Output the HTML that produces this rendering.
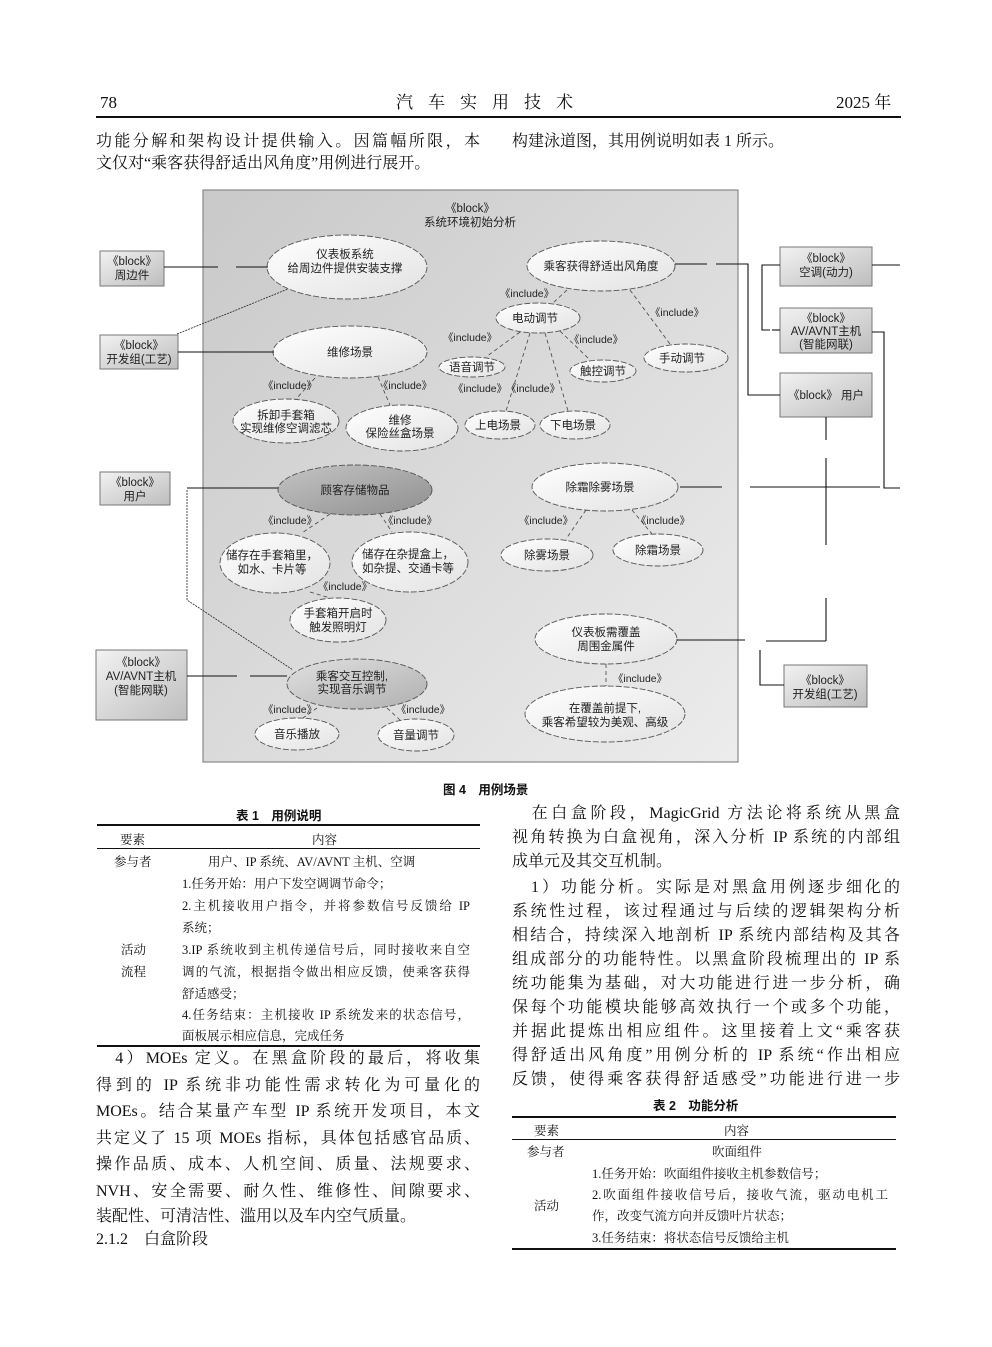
<!DOCTYPE html>
<html><head><meta charset="utf-8">
<style>
html,body{margin:0;padding:0;background:#fff;}
body{width:992px;height:1347px;position:relative;overflow:hidden;font-family:"Liberation Serif","Noto Serif CJK SC",serif;color:#111;}
.l{position:absolute;white-space:nowrap;font-size:16px;line-height:20px;}
.j{text-align:justify;text-align-last:justify;white-space:normal;}
.t{position:absolute;font-size:12.5px;line-height:16px;white-space:nowrap;}
.tj{text-align:justify;text-align-last:justify;white-space:normal;}
.cap{position:absolute;font-family:"Liberation Sans","Noto Sans CJK SC",sans-serif;font-weight:bold;font-size:12.5px;white-space:nowrap;}
.rule{position:absolute;background:#111;}
svg{position:absolute;left:0;top:0;}
svg text{font-family:"Liberation Sans","Noto Sans CJK SC",sans-serif;font-size:11.5px;fill:#222;text-anchor:middle;}
</style></head><body>

<!-- header -->
<div class="l" style="left:100px;top:93px;font-size:17px;">78</div>
<div class="l" style="left:396px;top:93px;font-size:17px;letter-spacing:15px;">汽车实用技术</div>
<div class="l" style="left:836px;top:93px;font-size:17px;">2025 年</div>
<div class="rule" style="left:96px;top:116px;width:805px;height:1.5px;"></div>

<div class="l j" style="left:96px;top:132px;width:384px;">功能分解和架构设计提供输入。因篇幅所限，本</div>
<div class="l" style="left:96px;top:154px;">文仅对“乘客获得舒适出风角度”用例进行展开。</div>
<div class="l" style="left:512px;top:132px;">构建泳道图，其用例说明如表 1 所示。</div>

<svg width="992" height="1347" viewBox="0 0 992 1347">
<defs>
<linearGradient id="bg" x1="0" y1="0" x2="1" y2="1"><stop offset="0" stop-color="#c9c9c9"/><stop offset="1" stop-color="#ececec"/></linearGradient>
<linearGradient id="act" x1="0" y1="0" x2="1" y2="1"><stop offset="0" stop-color="#f2f2f2"/><stop offset="1" stop-color="#bdbdbd"/></linearGradient>
<linearGradient id="el" x1="0" y1="0" x2="1" y2="1"><stop offset="0" stop-color="#ffffff"/><stop offset="1" stop-color="#e2e2e2"/></linearGradient>
<linearGradient id="dk" x1="0" y1="0" x2="1" y2="1"><stop offset="0" stop-color="#c4c4c4"/><stop offset="1" stop-color="#8f8f8f"/></linearGradient>
<linearGradient id="md" x1="0" y1="0" x2="1" y2="1"><stop offset="0" stop-color="#e0e0e0"/><stop offset="1" stop-color="#b0b0b0"/></linearGradient>
</defs>
<rect x="203" y="190" width="535" height="572" fill="url(#bg)" stroke="#888" stroke-width="1.2"/>
<text x="470" y="212">《block》</text>
<text x="470" y="226">系统环境初始分析</text>

<!-- actors -->
<g stroke="#777" stroke-width="1">
<rect x="100" y="251" width="64" height="35" fill="url(#act)"/>
<rect x="100" y="335" width="78" height="34" fill="url(#act)"/>
<rect x="100" y="472" width="70" height="33" fill="url(#act)"/>
<rect x="96" y="650" width="91" height="70" fill="url(#act)"/>
<rect x="780" y="247" width="92" height="39" fill="url(#act)"/>
<rect x="780" y="308" width="92" height="45" fill="url(#act)"/>
<rect x="780" y="373" width="92" height="44" fill="url(#act)"/>
<rect x="784" y="665" width="83" height="42" fill="url(#act)"/>
</g>
<text x="132" y="265">《block》</text><text x="132" y="279">周边件</text>
<text x="139" y="349">《block》</text><text x="139" y="363">开发组(工艺)</text>
<text x="135" y="486">《block》</text><text x="135" y="500">用户</text>
<text x="141" y="666">《block》</text><text x="141" y="680">AV/AVNT主机</text><text x="141" y="694">(智能网联)</text>
<text x="826" y="262">《block》</text><text x="826" y="276">空调(动力)</text>
<text x="826" y="322">《block》</text><text x="826" y="335">AV/AVNT主机</text><text x="826" y="348">(智能网联)</text>
<text x="826" y="399">《block》 用户</text>
<text x="825" y="684">《block》</text><text x="825" y="698">开发组(工艺)</text>

<!-- ellipses -->
<g stroke="#555" stroke-width="0.9" stroke-dasharray="6,2">
<ellipse cx="347" cy="267" rx="80" ry="32" fill="url(#el)"/>
<ellipse cx="350" cy="352" rx="77" ry="26" fill="url(#el)"/>
<ellipse cx="286" cy="421" rx="53" ry="22" fill="url(#el)"/>
<ellipse cx="402" cy="428" rx="56" ry="23" fill="url(#el)"/>
<ellipse cx="601" cy="266" rx="74" ry="25" fill="url(#el)"/>
<ellipse cx="538" cy="318" rx="42" ry="15" fill="url(#el)"/>
<ellipse cx="472" cy="367" rx="33" ry="10" fill="url(#el)"/>
<ellipse cx="603" cy="371" rx="33" ry="11" fill="url(#el)"/>
<ellipse cx="686" cy="358" rx="42" ry="14" fill="url(#el)"/>
<ellipse cx="500" cy="425" rx="35" ry="14" fill="url(#el)"/>
<ellipse cx="575" cy="425" rx="35" ry="14" fill="url(#el)"/>
<ellipse cx="355" cy="490" rx="77" ry="25" fill="url(#dk)"/>
<ellipse cx="275" cy="563" rx="55" ry="30" fill="url(#el)"/>
<ellipse cx="410" cy="562" rx="58" ry="30" fill="url(#el)"/>
<ellipse cx="338" cy="620" rx="48" ry="22" fill="url(#el)"/>
<ellipse cx="357" cy="684" rx="70" ry="25" fill="url(#md)"/>
<ellipse cx="297" cy="734" rx="42" ry="16" fill="url(#el)"/>
<ellipse cx="416" cy="735" rx="38" ry="16" fill="url(#el)"/>
<ellipse cx="605" cy="487" rx="73" ry="24" fill="url(#el)"/>
<ellipse cx="547" cy="555" rx="46" ry="16" fill="url(#el)"/>
<ellipse cx="658" cy="550" rx="45" ry="16" fill="url(#el)"/>
<ellipse cx="606" cy="639" rx="71" ry="25" fill="url(#el)"/>
<ellipse cx="605" cy="714" rx="80" ry="28" fill="url(#el)"/>
</g>
<text x="345" y="258">仪表板系统</text><text x="345" y="272">给周边件提供安装支撑</text>
<text x="350" y="356">维修场景</text>
<text x="286" y="419">拆卸手套箱</text><text x="286" y="432">实现维修空调滤芯</text>
<text x="400" y="424">维修</text><text x="400" y="437">保险丝盒场景</text>
<text x="601" y="270">乘客获得舒适出风角度</text>
<text x="535" y="322">电动调节</text>
<text x="472" y="371">语音调节</text>
<text x="603" y="375">触控调节</text>
<text x="682" y="362">手动调节</text>
<text x="498" y="429">上电场景</text>
<text x="573" y="429">下电场景</text>
<text x="355" y="494">顾客存储物品</text>
<text x="272" y="559">储存在手套箱里，</text><text x="272" y="573">如水、卡片等</text>
<text x="408" y="558">储存在杂提盒上，</text><text x="408" y="572">如杂提、交通卡等</text>
<text x="338" y="617">手套箱开启时</text><text x="338" y="631">触发照明灯</text>
<text x="352" y="680">乘客交互控制,</text><text x="352" y="693">实现音乐调节</text>
<text x="297" y="738">音乐播放</text>
<text x="416" y="739">音量调节</text>
<text x="600" y="491">除霜除雾场景</text>
<text x="547" y="559">除雾场景</text>
<text x="658" y="554">除霜场景</text>
<text x="606" y="636">仪表板需覆盖</text><text x="606" y="650">周围金属件</text>
<text x="605" y="712">在覆盖前提下,</text><text x="605" y="726">乘客希望较为美观、高级</text>

<!-- include dashed arrows -->
<g stroke="#444" stroke-width="0.8" stroke-dasharray="4,3" fill="none">
<line x1="567" y1="290" x2="553" y2="303"/>
<line x1="630" y1="290" x2="670" y2="344"/>
<line x1="520" y1="332" x2="486" y2="357"/>
<line x1="530" y1="333" x2="506" y2="411"/>
<line x1="545" y1="333" x2="568" y2="411"/>
<line x1="560" y1="331" x2="590" y2="360"/>
<line x1="315" y1="378" x2="296" y2="399"/>
<line x1="378" y1="377" x2="390" y2="405"/>
<line x1="330" y1="514" x2="302" y2="533"/>
<line x1="380" y1="514" x2="392" y2="532"/>
<line x1="310" y1="592" x2="330" y2="598"/>
<line x1="317" y1="708" x2="303" y2="718"/>
<line x1="387" y1="708" x2="400" y2="720"/>
<line x1="586" y1="510" x2="566" y2="539"/>
<line x1="632" y1="510" x2="652" y2="534"/>
<line x1="606" y1="664" x2="606" y2="686"/>
</g>
<g>
<text x="527" y="297" style="font-size:10.5px">《include》</text>
<text x="677" y="316" style="font-size:10.5px">《include》</text>
<text x="470" y="341" style="font-size:10.5px">《include》</text>
<text x="596" y="343" style="font-size:10.5px">《include》</text>
<text x="480" y="392" style="font-size:10.5px">《include》</text>
<text x="533" y="392" style="font-size:10.5px">《include》</text>
<text x="290" y="389" style="font-size:10.5px">《include》</text>
<text x="405" y="389" style="font-size:10.5px">《include》</text>
<text x="290" y="524" style="font-size:10.5px">《include》</text>
<text x="410" y="524" style="font-size:10.5px">《include》</text>
<text x="345" y="590" style="font-size:10.5px">《include》</text>
<text x="290" y="713" style="font-size:10.5px">《include》</text>
<text x="423" y="713" style="font-size:10.5px">《include》</text>
<text x="546" y="524" style="font-size:10.5px">《include》</text>
<text x="663" y="524" style="font-size:10.5px">《include》</text>
<text x="640" y="682" style="font-size:10.5px">《include》</text>
</g>

<!-- association lines -->
<g stroke="#111" stroke-width="1.1" fill="none">
<line x1="164" y1="267" x2="218" y2="267"/><line x1="236" y1="267" x2="268" y2="267"/>
<line x1="178" y1="352" x2="274" y2="352"/>
<line x1="675" y1="264" x2="707" y2="264"/><polyline points="716,264 748,264 748,395 780,395"/>
<polyline points="780,265 762,265 762,330 770,330"/><line x1="772" y1="330" x2="780" y2="330"/>
<line x1="872" y1="265" x2="900" y2="265"/>
<polyline points="872,332 884,332 884,488 900,488"/>
<line x1="826" y1="417" x2="826" y2="440"/>
<line x1="826" y1="458" x2="826" y2="545"/>
<line x1="826" y1="598" x2="826" y2="641"/>
<line x1="766" y1="641" x2="826" y2="641"/>
<polyline points="760,650 760,685 784,685"/>
<line x1="680" y1="487" x2="722" y2="487"/><line x1="750" y1="487" x2="880" y2="487"/>
<line x1="677" y1="640" x2="745" y2="640"/>
<line x1="187" y1="488" x2="278" y2="488"/>
<line x1="187" y1="676" x2="237" y2="676"/><line x1="250" y1="676" x2="287" y2="676"/>
</g>
<g stroke="#222" stroke-width="0.8" fill="none" stroke-dasharray="2,1">
<line x1="177" y1="334" x2="288" y2="289"/>
<polyline points="187,490 187,600 293,670"/>
</g>
</svg>

<div class="cap" style="left:443px;top:779px;">图 4　用例场景</div>
<div class="cap" style="left:236px;top:805px;">表 1　用例说明</div>

<!-- table 1 -->
<div class="rule" style="left:97px;top:824px;width:383px;height:1.6px;"></div>
<div class="t" style="left:120px;top:832px;">要素</div>
<div class="t" style="left:312px;top:832px;">内容</div>
<div class="rule" style="left:97px;top:848px;width:383px;height:0.8px;"></div>
<div class="t" style="left:114px;top:854px;">参与者</div>
<div class="t" style="left:208px;top:854px;">用户、IP 系统、AV/AVNT 主机、空调</div>
<div class="t" style="left:182px;top:876px;">1.任务开始：用户下发空调调节命令；</div>
<div class="t tj" style="left:182px;top:898px;width:288px;">2.主机接收用户指令，并将参数信号反馈给 IP</div>
<div class="t" style="left:182px;top:920px;">系统；</div>
<div class="t" style="left:121px;top:942px;">活动</div>
<div class="t" style="left:121px;top:964px;">流程</div>
<div class="t tj" style="left:182px;top:942px;width:288px;">3.IP 系统收到主机传递信号后，同时接收来自空</div>
<div class="t tj" style="left:182px;top:964px;width:288px;">调的气流，根据指令做出相应反馈，使乘客获得</div>
<div class="t" style="left:182px;top:986px;">舒适感受；</div>
<div class="t tj" style="left:182px;top:1007px;width:288px;">4.任务结束：主机接收 IP 系统发来的状态信号，</div>
<div class="t" style="left:182px;top:1028px;">面板展示相应信息，完成任务</div>
<div class="rule" style="left:97px;top:1045px;width:383px;height:1.6px;"></div>

<!-- left text bottom -->
<div class="l j" style="left:96px;top:1049px;width:384px;">　4）MOEs 定义。在黑盒阶段的最后，将收集</div>
<div class="l j" style="left:96px;top:1076px;width:384px;">得到的 IP 系统非功能性需求转化为可量化的</div>
<div class="l j" style="left:96px;top:1102px;width:384px;">MOEs。结合某量产车型 IP 系统开发项目，本文</div>
<div class="l j" style="left:96px;top:1129px;width:384px;">共定义了 15 项 MOEs 指标，具体包括感官品质、</div>
<div class="l j" style="left:96px;top:1155px;width:384px;">操作品质、成本、人机空间、质量、法规要求、</div>
<div class="l j" style="left:96px;top:1182px;width:384px;">NVH、安全需要、耐久性、维修性、间隙要求、</div>
<div class="l" style="left:96px;top:1207px;">装配性、可清洁性、滥用以及车内空气质量。</div>
<div class="l" style="left:96px;top:1230px;">2.1.2　白盒阶段</div>

<!-- right text -->
<div class="l j" style="left:512px;top:804px;width:388px;">　在白盒阶段，MagicGrid 方法论将系统从黑盒</div>
<div class="l j" style="left:512px;top:828px;width:388px;">视角转换为白盒视角，深入分析 IP 系统的内部组</div>
<div class="l" style="left:512px;top:852px;">成单元及其交互机制。</div>
<div class="l j" style="left:512px;top:878px;width:388px;">　1）功能分析。实际是对黑盒用例逐步细化的</div>
<div class="l j" style="left:512px;top:902px;width:388px;">系统性过程，该过程通过与后续的逻辑架构分析</div>
<div class="l j" style="left:512px;top:926px;width:388px;">相结合，持续深入地剖析 IP 系统内部结构及其各</div>
<div class="l j" style="left:512px;top:950px;width:388px;">组成部分的功能特性。以黑盒阶段梳理出的 IP 系</div>
<div class="l j" style="left:512px;top:974px;width:388px;">统功能集为基础，对大功能进行进一步分析，确</div>
<div class="l j" style="left:512px;top:998px;width:388px;">保每个功能模块能够高效执行一个或多个功能，</div>
<div class="l j" style="left:512px;top:1022px;width:388px;">并据此提炼出相应组件。这里接着上文“乘客获</div>
<div class="l j" style="left:512px;top:1046px;width:388px;">得舒适出风角度”用例分析的 IP 系统“作出相应</div>
<div class="l j" style="left:512px;top:1070px;width:388px;">反馈，使得乘客获得舒适感受”功能进行进一步</div>

<div class="cap" style="left:653px;top:1095px;">表 2　功能分析</div>
<div class="rule" style="left:512px;top:1116px;width:384px;height:1.6px;"></div>
<div class="t" style="left:534px;top:1123px;">要素</div>
<div class="t" style="left:724px;top:1123px;">内容</div>
<div class="rule" style="left:512px;top:1139px;width:384px;height:0.8px;"></div>
<div class="t" style="left:527px;top:1144px;">参与者</div>
<div class="t" style="left:712px;top:1144px;">吹面组件</div>
<div class="t" style="left:592px;top:1166px;">1.任务开始：吹面组件接收主机参数信号；</div>
<div class="t tj" style="left:592px;top:1187px;width:296px;">2.吹面组件接收信号后，接收气流，驱动电机工</div>
<div class="t" style="left:592px;top:1208px;">作，改变气流方向并反馈叶片状态；</div>
<div class="t" style="left:534px;top:1198px;">活动</div>
<div class="t" style="left:592px;top:1230px;">3.任务结束：将状态信号反馈给主机</div>
<div class="rule" style="left:512px;top:1248px;width:384px;height:1.6px;"></div>

</body></html>
